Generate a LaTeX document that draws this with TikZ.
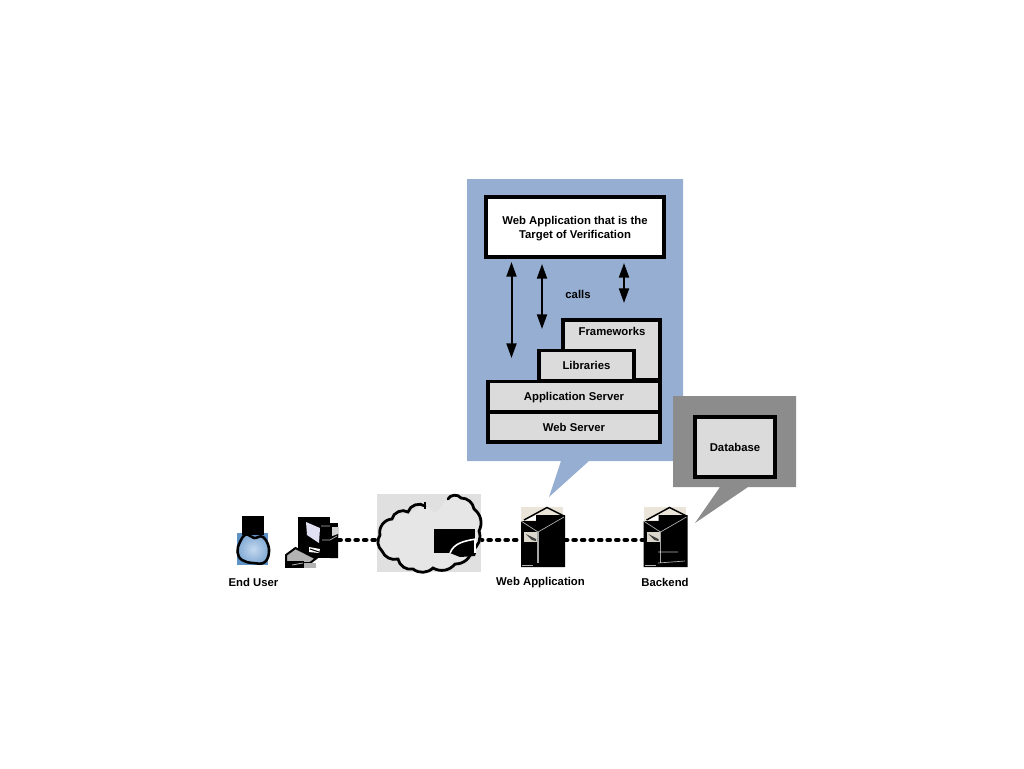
\documentclass[tikz,border=0pt]{standalone}
\usepackage{fontspec}
\setmainfont{Liberation Sans}
\usetikzlibrary{arrows.meta}
\definecolor{calloutblue}{HTML}{95AED2}
\definecolor{calloutgray}{HTML}{8C8C8C}
\definecolor{boxgray}{HTML}{DBDBDB}
\definecolor{cloudbg}{HTML}{E0E0E0}
\definecolor{cloudfill}{HTML}{E6E6E6}
\definecolor{beige}{HTML}{EAE5D8}
\definecolor{personblue}{HTML}{5E93C8}
\definecolor{personlight}{HTML}{C4D8EE}
\definecolor{personmid}{HTML}{7FA8D4}
\tikzset{
  x=0.75pt,y=-0.75pt,
  label text/.style={font=\bfseries\fontsize{8.5}{10.4}\selectfont,align=center,text=black,inner sep=0pt},
  stackbox/.style={draw=black,line width=2.3pt,fill=boxgray,inner sep=0pt,outer sep=0pt,label text},
  whitebox/.style={stackbox,fill=white},
  ghost/.style={inner sep=0pt,outer sep=0pt},
  dotline/.style={line width=3.4pt,line cap=round,dash pattern=on 1.6pt off 4.8pt,black},
  callarrow/.style={line width=1.5pt,black,{Stealth[length=11pt,width=7.5pt,inset=0pt]}-{Stealth[length=11pt,width=7.5pt,inset=0pt]}},
  whiteline/.style={draw=white,line width=0.5pt,opacity=.7},
}
\newcommand{\serverpic}[1]{%
  \begin{scope}[shift={(#1,0)}]
    \fill[beige] (521,507) rectangle (563,522);
    \fill[white] (526,520) -- (536,515) -- (536,520) -- cycle;
    \fill[black] (521,521) -- (536,521) -- (536,515) -- (565,515) -- (565,567) -- (521,567) -- cycle;
    \draw[black,line width=1.1pt] (524,520) -- (547,507.5) -- (564,516);
    \draw[whiteline] (521,521) -- (538,532) -- (564,517);
    \draw[gray!70!white,line width=.8pt] (538,532) -- (538,563);
    \fill[beige!85!gray] (524,532) rectangle (537,542);
    \fill[black!75] (526,534) -- (536,539) -- (536,541) -- (532,540) -- cycle;
    \draw[whiteline] (522,565) -- (533,565);
  \end{scope}}
\begin{document}
\begin{tikzpicture}
\useasboundingbox (0,0) rectangle (1024,768);
\fill[white] (0,0) rectangle (1024,768);

% callouts
\fill[calloutblue] (467,179) -- (683,179) -- (683,461) -- (589,461) -- (549,497) -- (561,461) -- (467,461) -- cycle;
\fill[calloutgray] (673,396) -- (796,396) -- (796,487) -- (748,487) -- (695,523) -- (720,487) -- (673,487) -- cycle;

% stack
\node[stackbox,minimum width=97*.75pt,minimum height=60*.75pt] (frameworks) at (611.5,350) {};
\node[label text] (frameworkstext) at (612,331) {Frameworks};
\node[stackbox,minimum width=95*.75pt,minimum height=30*.75pt] (libraries) at (586.5,365.5) {Libraries};
\node[stackbox,minimum width=172*.75pt,minimum height=30*.75pt] (appserver) at (574,396.5) {\rule{0pt}{7.6pt}Application Server};
\node[stackbox,minimum width=172*.75pt,minimum height=30*.75pt] (webserver) at (574,427) {Web Server};
\node[whitebox,minimum width=178*.75pt,minimum height=60*.75pt] (target) at (575,227) {\rule{0pt}{8.6pt}Web Application that is the\\Target of Verification};
\node[stackbox,minimum width=80*.75pt,minimum height=60*.75pt] (database) at (735,447) {Database};
\node[label text] (calls) at (578,294) {calls};

% call arrows
\coordinate (a1top) at (511.5,262);
\coordinate (a1bot) at (511.5,358);
\coordinate (a2top) at (542,264);
\coordinate (a2bot) at (542,329);
\coordinate (a3top) at (624,263);
\coordinate (a3bot) at (624,303);
\draw[callarrow] (a1top) -- (a1bot);
\draw[callarrow] (a2top) -- (a2bot);
\draw[callarrow] (a3top) -- (a3bot);

% anchors for icons
\node[ghost,minimum width=41*.75pt,minimum height=41*.75pt] (client) at (318,540) {};
\node[ghost,minimum width=100*.75pt,minimum height=78*.75pt] (cloud) at (430,540) {};
\node[ghost,minimum width=44*.75pt,minimum height=60*.75pt] (webapp) at (543,540) {};
\node[ghost,minimum width=44*.75pt,minimum height=60*.75pt] (backend) at (665,540) {};

% connectors
\draw[dotline] (client.east) -- (cloud.west);
\draw[dotline] (cloud.east) -- (webapp.west);
\draw[dotline] (webapp.east) -- (backend.west);

% end user
\fill[personblue] (237,533) rectangle (268,565);
\fill[black] (242,516) rectangle (264,535);
\draw[black,line width=1.9pt,inner color=personlight,outer color=personmid]
  plot[smooth cycle,tension=.7] coordinates {(246,534.5) (240,542) (237.5,552) (242,560) (253,563) (265,562) (269,549) (263,537) (254,538)};

% client machine
\fill[black] (298,517) rectangle (330,558);
\fill[black] (330,523) rectangle (338,558);
\fill[gray!35] (332,527) rectangle (339,537);
\fill[black] (330,537) -- (338,534) -- (338,558) -- (330,558) -- cycle;
\fill[blue!8!white!90!gray] (306,522) -- (320,528) -- (319,543) -- (307,535) -- cycle;
\draw[whiteline] (321,526) -- (330,526) (322,540) -- (330,540) (330,540) -- (337,536);
\fill[white] (309,547) -- (320,549) -- (319,553) -- (309,552) -- cycle;
\draw[black,line width=.8pt] (310,549) -- (319,552);
\fill[gray!60,draw=black,line width=1.5pt] (286,555) -- (295.5,548) -- (316,558.5) -- (310,563) -- (286,563) -- cycle;
\fill[black] (285,561) rectangle (304,568);
\fill[gray!60] (304,563) rectangle (316,568);
\draw[white,line width=.6pt,opacity=.7] (292,565) -- (303,563);

% cloud
\fill[cloudbg] (377,494) rectangle (481,572);
\fill[cloudfill] plot[smooth cycle,tension=.8] coordinates {(425,506) (408,513) (390,518) (378,536) (380,551) (398,560) (413,571) (433,570) (455,566) (473,551) (479,531) (474,508) (460,497) (448,498) (436,512)};
\draw[black,line width=2.1pt,line cap=round]
  (425,506) to[bend right=55] (408,512) to[bend right=55] (392,519)
  to[bend right=50] (380,535) to[bend right=40] (382,551)
  to[bend right=40] (398,559) to[bend right=45] (413,569)
  to[bend right=40] (433,568) to[bend right=40] (455,564)
  to[bend right=40] (472,550) to[bend right=40] (479,531)
  to[bend right=40] (474,509) to[bend right=40] (461,498)
  to[bend right=60] (448,499);
\draw[black,line width=1.5pt] (425,502) -- (425,509);
\fill[black] (434,529) rectangle (475,553);
\fill[black] (450,553) -- (476,553) -- (475,556) -- (460,557) -- cycle;
\draw[white,line width=1.2pt] (450,553) .. controls (454,543) and (464,541) .. (476,539);
\draw[white,line width=.8pt] (475,539) -- (475,553);

% servers
\serverpic{0}
\serverpic{122.5}
\draw[whiteline] (658,552) -- (678,552) (658,563) -- (685,561);

% labels
\node[label text] (enduserlabel) at (253.5,582) {End User};
\node[label text] (webapplabel) at (540.5,583) {Web Application};
\node[label text] (backendlabel) at (665,582) {Backend};
\end{tikzpicture}
\end{document}
